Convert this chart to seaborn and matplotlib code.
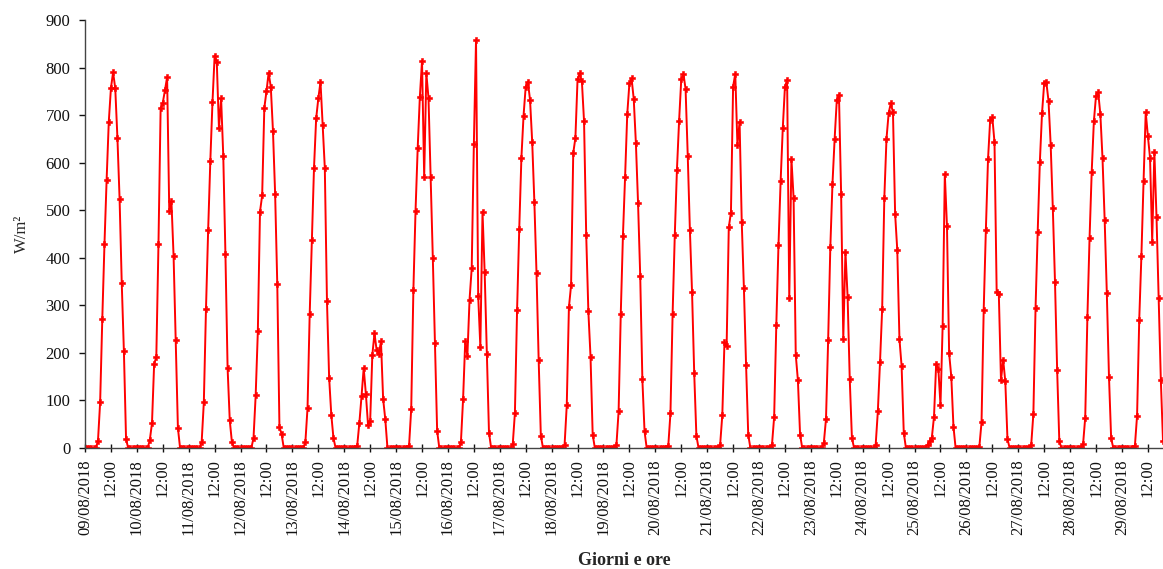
import pandas as pd
import seaborn as sns
import matplotlib
matplotlib.use("Agg")
import matplotlib.pyplot as plt
import matplotlib.dates as mdates
from matplotlib.ticker import FuncFormatter

# valori orari di irraggiamento (W/m2), un elenco per giorno, ore 0-23
d0908 = [0, 0, 0, 0, 0, 0, 15, 96, 272, 428, 564, 686, 757, 790, 756, 652, 524, 347, 203, 18, 0, 0, 0, 0]
d1008 = [0, 0, 0, 0, 0, 0, 17, 52, 177, 191, 428, 714, 726, 752, 780, 498, 519, 403, 226, 42, 0, 0, 0, 0]
d1108 = [0, 0, 0, 0, 0, 0, 13, 96, 293, 458, 603, 727, 825, 811, 672, 735, 614, 407, 168, 58, 12, 0, 0, 0]
d1208 = [0, 0, 0, 0, 0, 0, 21, 111, 245, 497, 531, 715, 750, 789, 759, 667, 535, 344, 44, 29, 0, 0, 0, 0]
d1308 = [0, 0, 0, 0, 0, 0, 12, 84, 281, 437, 589, 693, 735, 770, 680, 589, 309, 148, 70, 21, 0, 0, 0, 0]
d1408 = [0, 0, 0, 0, 0, 0, 5, 53, 109, 168, 114, 49, 57, 196, 241, 205, 198, 224, 103, 60, 0, 0, 0, 0]
d1508 = [0, 0, 0, 0, 0, 0, 5, 82, 332, 499, 631, 739, 814, 570, 788, 736, 570, 399, 220, 36, 0, 0, 0, 0]
d1608 = [0, 0, 0, 0, 0, 0, 12, 102, 224, 194, 312, 378, 640, 858, 320, 212, 497, 369, 198, 32, 0, 0, 0, 0]
d1708 = [0, 0, 0, 0, 0, 0, 8, 74, 290, 460, 610, 699, 760, 770, 732, 644, 518, 367, 184, 26, 0, 0, 0, 0]
d1808 = [0, 0, 0, 0, 0, 0, 7, 90, 296, 342, 620, 652, 776, 788, 771, 687, 448, 287, 192, 28, 0, 0, 0, 0]
d1908 = [0, 0, 0, 0, 0, 0, 7, 77, 282, 446, 570, 702, 767, 777, 734, 641, 515, 362, 144, 35, 0, 0, 0, 0]
d2008 = [0, 0, 0, 0, 0, 0, 5, 73, 282, 447, 585, 688, 775, 787, 755, 615, 458, 327, 157, 26, 0, 0, 0, 0]
d2108 = [0, 0, 0, 0, 0, 0, 7, 69, 222, 214, 464, 495, 760, 787, 637, 686, 475, 336, 175, 28, 0, 0, 0, 0]
d2208 = [0, 0, 0, 0, 0, 0, 7, 65, 259, 426, 561, 673, 760, 774, 315, 608, 526, 196, 142, 28, 0, 0, 0, 0]
d2308 = [0, 0, 0, 0, 0, 0, 11, 61, 227, 422, 556, 650, 732, 743, 535, 229, 413, 318, 144, 21, 0, 0, 0, 0]
d2408 = [0, 0, 0, 0, 0, 0, 7, 77, 180, 292, 526, 650, 704, 725, 706, 492, 416, 229, 172, 32, 0, 0, 0, 0]
d2508 = [0, 0, 0, 0, 0, 0, 7, 14, 22, 66, 177, 167, 90, 257, 576, 467, 199, 150, 45, 0, 0, 0, 0, 0]
d2608 = [0, 0, 0, 0, 0, 0, 3, 54, 290, 458, 607, 690, 695, 643, 329, 324, 142, 186, 140, 19, 0, 0, 0, 0]
d2708 = [0, 0, 0, 0, 0, 0, 7, 72, 294, 455, 602, 704, 767, 769, 730, 638, 504, 350, 164, 14, 0, 0, 0, 0]
d2808 = [0, 0, 0, 0, 0, 0, 8, 64, 275, 441, 581, 687, 741, 748, 702, 609, 479, 325, 149, 20, 0, 0, 0, 0]
d2908 = [0, 0, 0, 0, 0, 0, 5, 68, 270, 404, 561, 706, 656, 610, 434, 623, 485, 315, 142, 15]

giorni = [d0908, d1008, d1108, d1208, d1308, d1408, d1508, d1608, d1708, d1808, d1908,
          d2008, d2108, d2208, d2308, d2408, d2508, d2608, d2708, d2808, d2908]
valori = [v for g in giorni for v in g]
ore = pd.date_range("2018-08-09 00:00", periods=len(valori), freq="h")
df = pd.DataFrame({"Ora": ore, "Irr": valori})

sns.set_style("ticks")
plt.rcParams["font.family"] = ["Liberation Serif", "DejaVu Serif"]

fig = plt.figure(figsize=(11.63, 5.69), dpi=100)
ax = fig.add_axes([0.0731, 0.2127, 0.9269, 0.7522])

sns.lineplot(data=df, x="Ora", y="Irr", ax=ax, color="#ff0000", lw=1.4,
             marker="P", markersize=4.8, markeredgecolor="#ff0000",
             markeredgewidth=0.4)

ax.set_xlim(ore[0], ore[-1])
ax.set_ylim(0, 900)
ax.set_yticks(range(0, 901, 100))


def etichetta(x, pos):
    t = mdates.num2date(x)
    if t.hour == 0:
        return t.strftime("%d/%m/%Y")
    return "12:00"


ax.xaxis.set_major_locator(mdates.HourLocator(byhour=[0, 12]))
ax.xaxis.set_major_formatter(FuncFormatter(etichetta))
ax.tick_params(axis="x", direction="inout", length=5.8, width=1, pad=5.4,
               labelsize=12, labelrotation=90, colors="#111111")
ax.tick_params(axis="y", direction="out", length=4.5, width=1, pad=6,
               labelsize=12, colors="#111111")

sns.despine(ax=ax)
for s in ["left", "bottom"]:
    ax.spines[s].set_color("#444444")
    ax.spines[s].set_linewidth(1)

ax.set_xlabel("Giorni e ore", fontsize=13, fontweight="bold", labelpad=12)
ax.set_ylabel("W/m²", fontsize=12, labelpad=11)

fig.savefig("out.png", dpi=100)
